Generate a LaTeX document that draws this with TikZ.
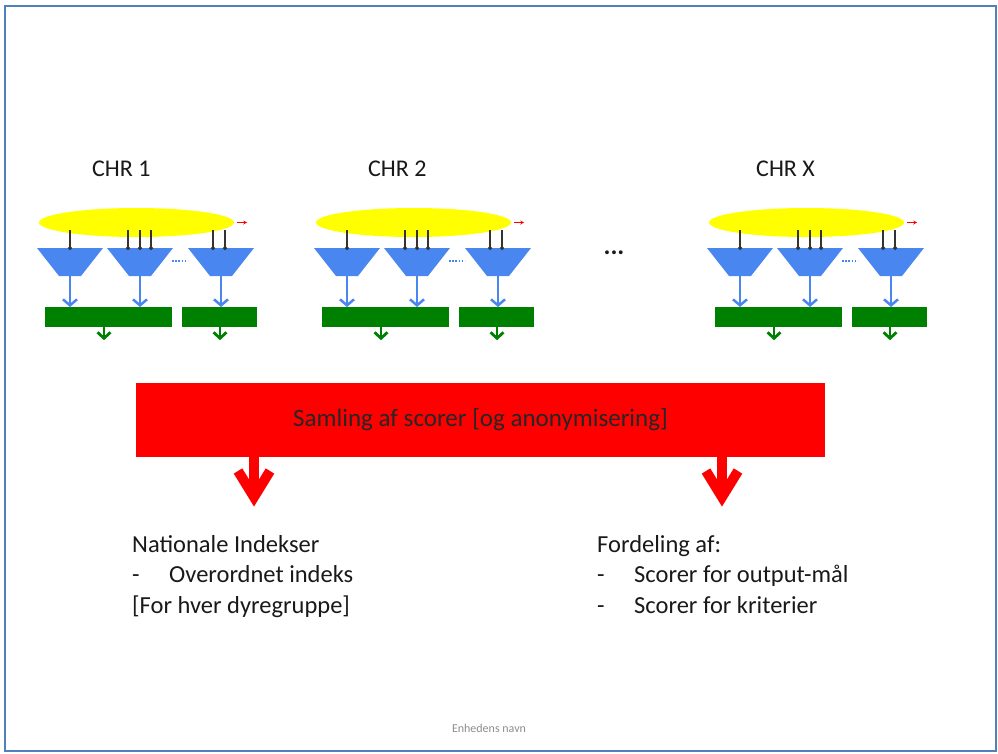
\documentclass[tikz,border=0pt]{standalone}
\usepackage{fontspec}
\setmainfont{Carlito}
\usetikzlibrary{arrows.meta,shapes.geometric}
\definecolor{trapblue}{RGB}{74,134,240}
\definecolor{ellyellow}{RGB}{255,255,0}
\definecolor{boxgreen}{RGB}{0,128,0}
\definecolor{framebl}{RGB}{79,129,189}
\definecolor{bigred}{RGB}{255,0,0}
\begin{document}
\begin{tikzpicture}[x=1pt,y=-1pt,
  ell/.style={ellipse, fill=ellyellow, inner sep=0pt, minimum width=195pt, minimum height=29pt},
  gbox/.style={rectangle, fill=boxgreen, inner sep=0pt, minimum height=20pt},
  trap/.style={fill=trapblue},
  feed/.style={draw=black!80, line width=1.2pt, -{Circle[length=4pt]}},
  bluearr/.style={draw=trapblue, line width=2.5pt, -{Straight Barb[length=6pt,width=14pt]}},
  greenarr/.style={draw=boxgreen, line width=2.8pt, -{Straight Barb[length=6pt,width=13pt]}},
  redsmall/.style={draw=bigred, line width=1pt, -{Stealth[length=4pt,width=4pt]}},
  bluedots/.style={draw=trapblue, line width=1.5pt, dash pattern=on 1.6pt off 1.6pt},
  lbl/.style={font=\fontsize{24}{29}\selectfont, text=black!90, inner sep=0pt},
  body/.style={font=\fontsize{24.5}{30.5}\selectfont, text=black!90, inner sep=0pt},
  redshaft/.style={draw=bigred, line width=10pt},
  redhead/.style={draw=bigred, line width=10pt, miter limit=10},
  framebox/.style={draw=framebl, line width=2pt}]
\useasboundingbox (0,0) rectangle (998,753);
\draw[framebox] (5,6) rectangle (996,751);

\foreach \off/\n in {0/1,277/2,670/3}{
\begin{scope}[xshift=\off pt]
  \node[ell] (E\n) at (136.5,222.5) {};
  \draw[redsmall] ([xshift=3pt]E\n.east) -- ([xshift=13pt]E\n.east);
  % trapezoids
  \fill[trap] (37,248) -- (103,248) -- (81,276) -- (59,276) -- cycle;
  \fill[trap] (107,248) -- (173,248) -- (151,276) -- (129,276) -- cycle;
  \fill[trap] (188,248) -- (254,248) -- (232,276) -- (210,276) -- cycle;
  % feeds
  \draw[feed] (70,230) -- (70,250);
  \draw[feed] (128,230) -- (128,250);
  \draw[feed] (140,230) -- (140,250);
  \draw[feed] (151,230) -- (151,250);
  \draw[feed] (213,230) -- (213,250);
  \draw[feed] (225,230) -- (225,250);
  \draw[bluedots] (172,261) -- (188,261);
  % green boxes
  \node[gbox, minimum width=127pt] (B\n a) at (108.5,317) {};
  \node[gbox, minimum width=75pt] (B\n b) at (219.5,317) {};
  \draw[bluearr] (70,276) -- (70,307);
  \draw[bluearr] (140,276) -- (140,307);
  \draw[bluearr] (221,276) -- (221,307);
  \draw[greenarr] ([xshift=-4.5pt]B\n a.south) -- ++(0,13);
  \draw[greenarr] ([xshift=0.5pt]B\n b.south) -- ++(0,13);
\end{scope}}

\node[lbl, anchor=base west] (C1) at (92,176) {CHR 1};
\node[lbl, anchor=base west] (C2) at (368,176) {CHR 2};
\node[lbl, anchor=base west] (C3) at (756,176) {CHR X};
\node[lbl, font=\fontsize{26}{26}\selectfont\bfseries, anchor=base] (dots) at (614,254) {...};

\node[fill=bigred, minimum width=689pt, minimum height=74pt, inner sep=0pt,
      font=\fontsize{25}{29}\selectfont, text=black!85] (R) at (480.5,420) {Samling af scorer [og anonymisering]};

\coordinate (A1) at (254,497);
\coordinate (A2) at (722,497);
\draw[redshaft] (R.south -| A1) -- (A1);
\draw[redhead] ([shift={(-16,-26)}]A1) -- (A1) -- ([shift={(16,-26)}]A1);
\draw[redshaft] (R.south -| A2) -- (A2);
\draw[redhead] ([shift={(-16,-26)}]A2) -- (A2) -- ([shift={(16,-26)}]A2);

\node[body, anchor=base west] (N) at (132,552) {\parbox[t]{320pt}{\raggedright
  Nationale Indekser\\
  \makebox[37pt][l]{-}Overordnet indeks\\
  {[}For hver dyregruppe{]}}};
\node[body, anchor=base west] (F) at (597,552) {\parbox[t]{320pt}{\raggedright
  Fordeling af:\\
  \makebox[37pt][l]{-}Scorer for output-mål\\
  \makebox[37pt][l]{-}Scorer for kriterier}};

\node[font=\fontsize{12}{12}\selectfont, text=black!45, inner sep=0pt] (foot) at (489,728) {Enhedens navn};
\end{tikzpicture}
\end{document}
